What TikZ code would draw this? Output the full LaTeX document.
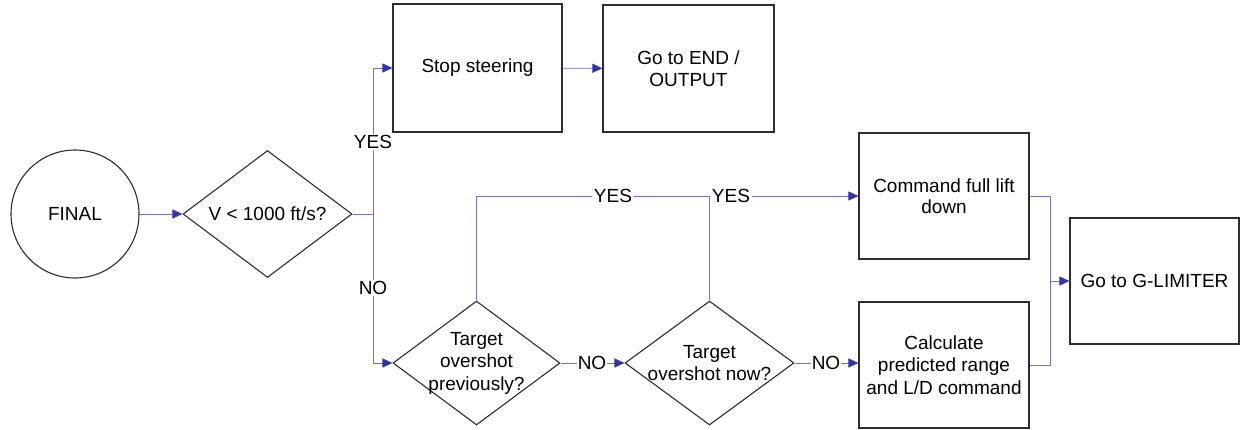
\documentclass[tikz,border=0pt]{standalone}
\usepackage{fontspec}
\setmainfont{Liberation Sans}
\usetikzlibrary{shapes.geometric,arrows.meta}
\definecolor{linkblue}{RGB}{112,112,210}
\definecolor{tipblue}{RGB}{52,52,170}
\definecolor{edge}{RGB}{45,45,45}
\tikzset{
  every node/.style={font=\fontsize{19}{21.5}\selectfont},
  procbox/.style={draw=edge, line width=1.1pt, rectangle, inner sep=0pt, align=center},
  decide/.style={draw=edge, line width=1.1pt, diamond, inner sep=0pt, aspect=1.33},
  startnode/.style={draw=edge, line width=1.1pt, circle, inner sep=0pt, minimum size=128pt},
  conn/.style={draw=linkblue, line width=0.9pt},
  flow/.style={conn, -{Triangle[length=10pt,width=9pt,color=tipblue,fill=tipblue]}},
  tag/.style={fill=white, inner sep=1.5pt}
}
\begin{document}
\begin{tikzpicture}[x=1pt, y=-1pt]
\useasboundingbox[fill=white] (0,0) rectangle (1243,429);

% start node and first decision
\node[startnode] (final) at (75,214) {FINAL};
\node[decide, minimum width=169pt, minimum height=127pt] (d1) at (267.5,214) {};
\node (d1t) at (d1.center) {V < 1000 ft/s?};

% upper row
\node[procbox, minimum width=169pt, minimum height=128pt] (stop) at (477.5,68) {Stop steering};
\node[procbox, minimum width=171pt, minimum height=127pt] (endo) at (688.5,68.5) {Go to END /\\OUTPUT};

% overshoot decisions
\node[decide, minimum width=167pt, minimum height=124pt] (d2) at (476.5,363) {};
\node[align=center] (d2t) at (d2.center) {Target\\[1pt]overshot\\[1pt]previously?};
\node[decide, minimum width=169pt, minimum height=124pt] (d3) at (709.5,363) {};
\node[align=center] (d3t) at (d3.center) {Target\\overshot now?};

% commands and exit
\node[procbox, minimum width=170pt, minimum height=126pt] (cmd) at (944,196) {Command full lift\\down};
\node[procbox, minimum width=170pt, minimum height=126pt] (calc) at (944,365) {Calculate\\[1pt]predicted range\\[1pt]and L/D command};
\node[procbox, minimum width=169pt, minimum height=126pt] (glim) at (1154.5,281) {Go to G-LIMITER};

% junction points
\coordinate (j1) at (373,214);
\coordinate (ytop) at (709.5,196);
\coordinate (j2) at (1050,281);

% connectors
\draw[flow] (final) -- (d1);
\draw[conn] (d1.east) -- (j1);
\draw[flow] (j1) |- (stop.west);
\draw[flow] (j1) |- (d2.west);
\draw[flow] (stop) -- (endo);
\draw[conn] (d2.north) |- (ytop);
\draw[flow] (d3.north) -- (ytop) -- (ytop -| cmd.west);
\draw[flow] (d2) -- (d3);
\draw[flow] (d3) -- (d3 -| calc.west);
\draw[conn] (cmd.east) -| (j2);
\draw[conn] (calc.east) -| (j2);
\draw[flow] (j2) -- (j2 -| glim.west);

% branch labels
\node[tag] (yes1) at (373,142) {YES};
\node[tag] (no1) at (373,288) {NO};
\node[tag] (yes2) at (613,196) {YES};
\node[tag] (yes3) at (731,196) {YES};
\node[tag, inner sep=0.5pt] (no2) at (592,363) {NO};
\node[tag, inner sep=0.5pt] (no3) at (826,363) {NO};
\end{tikzpicture}
\end{document}
